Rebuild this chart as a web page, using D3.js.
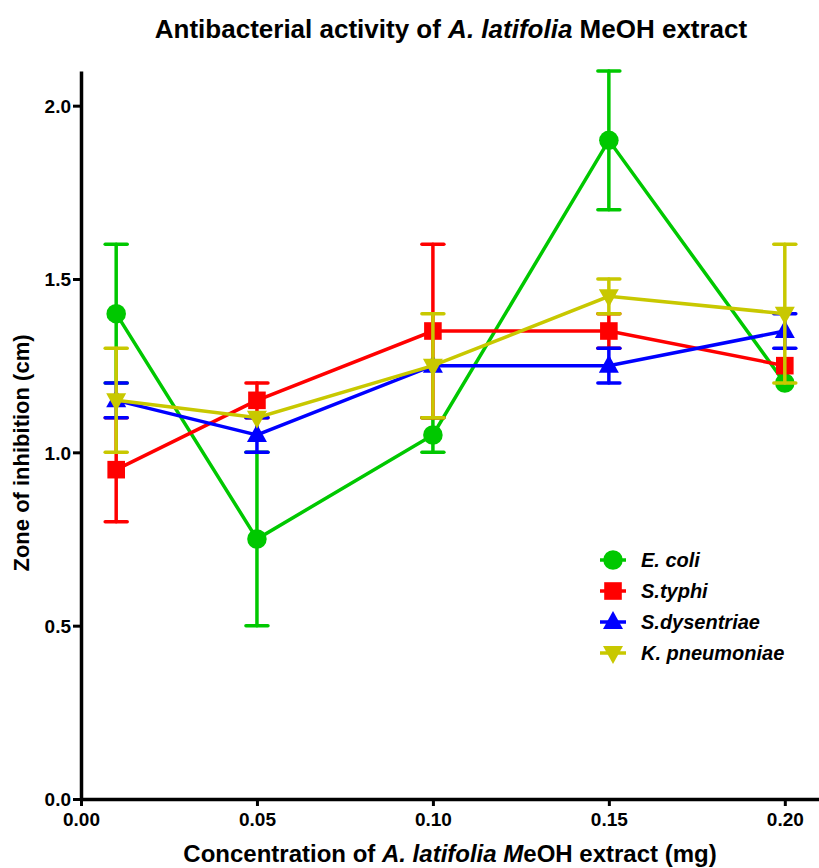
<!DOCTYPE html>
<html>
<head>
<meta charset="utf-8">
<script src="https://cdn.jsdelivr.net/npm/d3@7"></script>
<style>
  body { margin: 0; background: #fff; }
  text { font-family: "Liberation Sans", Arial, sans-serif; }
</style>
</head>
<body>
<svg width="819" height="868"></svg>
<script>
// concentration (mg)
var conc = [0.01, 0.05, 0.10, 0.15, 0.20];

// mean zone of inhibition (cm) and error (cm)
var ecoli = [1.40, 0.75, 1.05, 1.90, 1.20],
    ecoliErr = [0.20, 0.25, 0.05, 0.20, 0.00];
var typhi = [0.95, 1.15, 1.35, 1.35, 1.25],
    typhiErr = [0.15, 0.05, 0.25, 0.05, 0.00];
var dysen = [1.15, 1.05, 1.25, 1.25, 1.35],
    dysenErr = [0.05, 0.05, 0.00, 0.05, 0.05];
var pneumo = [1.15, 1.10, 1.25, 1.45, 1.40],
    pneumoErr = [0.15, 0.00, 0.15, 0.05, 0.20];

var seriesNames = ["E. coli", "S.typhi", "S.dysentriae", "K. pneumoniae"];
var seriesColors = ["#00c800", "#ff0000", "#0000ff", "#c8c800"];
var seriesShapes = ["circle", "square", "up", "down"];

var xTicks = [0, 0.05, 0.10, 0.15, 0.20];
var yTicks = [0, 0.5, 1.0, 1.5, 2.0];

var series = [
  {name: seriesNames[0], y: ecoli, err: ecoliErr},
  {name: seriesNames[1], y: typhi, err: typhiErr},
  {name: seriesNames[2], y: dysen, err: dysenErr},
  {name: seriesNames[3], y: pneumo, err: pneumoErr}
];
series.forEach(function(s, i) {
  s.color = seriesColors[i];
  s.shape = seriesShapes[i];
  s.pts = conc.map(function(c, j) { return {x: c, y: s.y[j], e: s.err[j]}; });
});

var svg = d3.select("svg");

var x = d3.scaleLinear().domain([0, 0.21]).range([81, 820]);
var y = d3.scaleLinear().domain([0, 2.1]).range([799, 71]);

// axes
var xAxis = svg.append("g")
    .attr("transform", "translate(0," + y(0) + ")")
    .call(d3.axisBottom(x).tickValues(xTicks).tickFormat(d3.format(".2f")).tickSize(7).tickSizeOuter(0));
var yAxis = svg.append("g")
    .attr("transform", "translate(" + x(0) + ",0)")
    .call(d3.axisLeft(y).tickValues(yTicks).tickFormat(d3.format(".1f")).tickSize(8).tickSizeOuter(0));

[xAxis, yAxis].forEach(function(g) {
  g.select(".domain").attr("stroke", "#000").attr("stroke-width", 3.5);
  g.selectAll(".tick line").attr("stroke", "#000").attr("stroke-width", 3);
});
xAxis.selectAll(".tick text")
    .attr("y", 14)
    .style("font-size", "19px").style("font-weight", "bold").attr("fill", "#000");
yAxis.selectAll(".tick text")
    .attr("x", -10).attr("dy", "0.36em")
    .style("font-size", "19px").style("font-weight", "bold").attr("fill", "#000");

function symbolFor(shape) {
  if (shape === "circle") return d3.symbol().type(d3.symbolCircle).size(300)();
  if (shape === "square") return d3.symbol().type(d3.symbolSquare).size(310)();
  if (shape === "up") return "M0,-11L10,7L-10,7Z";
  return "M0,11L10,-7L-10,-7Z";
}

var line = d3.line().x(function(d) { return x(d.x); }).y(function(d) { return y(d.y); });

series.forEach(function(s) {
  var g = svg.append("g");
  g.append("path")
    .attr("d", line(s.pts))
    .attr("fill", "none")
    .attr("stroke", s.color)
    .attr("stroke-width", 3.5);

  var eb = g.selectAll(".eb").data(s.pts.filter(function(d) { return d.e > 0; }))
    .enter().append("g").attr("stroke", s.color).attr("stroke-width", 3.5).attr("stroke-linecap", "round");
  eb.append("line")
    .attr("x1", function(d) { return x(d.x); }).attr("x2", function(d) { return x(d.x); })
    .attr("y1", function(d) { return y(d.y - d.e); }).attr("y2", function(d) { return y(d.y + d.e); });
  eb.append("line")
    .attr("x1", function(d) { return x(d.x) - 11; }).attr("x2", function(d) { return x(d.x) + 11; })
    .attr("y1", function(d) { return y(d.y + d.e); }).attr("y2", function(d) { return y(d.y + d.e); });
  eb.append("line")
    .attr("x1", function(d) { return x(d.x) - 11; }).attr("x2", function(d) { return x(d.x) + 11; })
    .attr("y1", function(d) { return y(d.y - d.e); }).attr("y2", function(d) { return y(d.y - d.e); });

  g.selectAll(".pt").data(s.pts).enter().append("path")
    .attr("d", symbolFor(s.shape))
    .attr("transform", function(d) { return "translate(" + x(d.x) + "," + y(d.y) + ")"; })
    .attr("fill", s.color);
});

// legend
var legend = svg.append("g").attr("transform", "translate(613,560)");
series.forEach(function(s, i) {
  var row = legend.append("g").attr("transform", "translate(0," + (i * 31) + ")");
  row.append("line").attr("x1", -13).attr("x2", 13).attr("stroke", s.color).attr("stroke-width", 3.5);
  row.append("path").attr("d", symbolFor(s.shape)).attr("fill", s.color);
  row.append("text").attr("x", 28).attr("y", 7)
    .style("font-size", "20px").style("font-weight", "bold").style("font-style", "italic")
    .text(s.name);
});

// title and axis labels
var title = svg.append("text").attr("x", 451).attr("y", 38).attr("text-anchor", "middle")
    .style("font-size", "26px").style("font-weight", "bold");
title.append("tspan").text("Antibacterial activity of ");
title.append("tspan").style("font-style", "italic").text("A. latifolia");
title.append("tspan").text(" MeOH extract");

var xl = svg.append("text").attr("x", 450).attr("y", 862).attr("text-anchor", "middle")
    .style("font-size", "24px").style("font-weight", "bold");
xl.append("tspan").text("Concentration of ");
xl.append("tspan").style("font-style", "italic").text("A. latifolia M");
xl.append("tspan").text("eOH extract (mg)");

svg.append("text")
    .attr("transform", "translate(29,453) rotate(-90)")
    .attr("text-anchor", "middle")
    .style("font-size", "22px").style("font-weight", "bold")
    .text("Zone of inhibition (cm)");
</script>
</body>
</html>
